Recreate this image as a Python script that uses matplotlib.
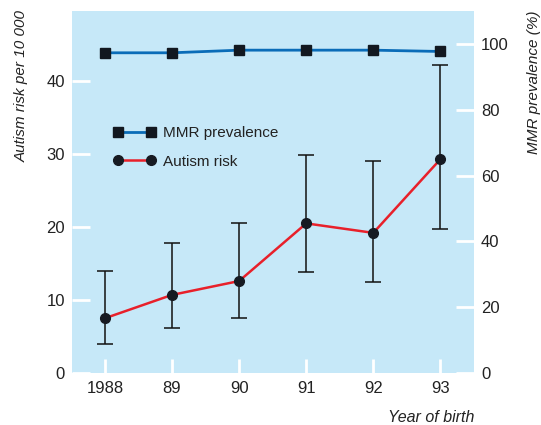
import matplotlib.pyplot as plt
import numpy as np

# Data
years = [1988, 1989, 1990, 1991, 1992, 1993]
year_labels = ['1988', '89', '90', '91', '92', '93']
mmr_prevalence = [97.3, 97.3, 98.1, 98.1, 98.1, 97.7]
autism_risk = [7.5, 10.7, 12.6, 20.5, 19.2, 29.3]
autism_upper = [14.0, 17.8, 20.5, 29.9, 29.0, 42.2]
autism_lower = [4.0, 6.2, 7.5, 13.8, 12.5, 19.7]

plt.rcParams['font.family'] = ['Liberation Sans Narrow', 'Liberation Sans', 'DejaVu Sans']
plt.rcParams['font.size'] = 11.5

bg = '#c6e8f8'
txt = '#222222'

fig = plt.figure(figsize=(5.41, 4.25), dpi=100)
ax = fig.add_axes([72 / 541, 1 - 373 / 425, 402 / 541, 362 / 425])
ax.set_facecolor(bg)
ax2 = ax.twinx()

yerr = [np.array(autism_risk) - np.array(autism_lower),
        np.array(autism_upper) - np.array(autism_risk)]
ax.errorbar(years, autism_risk, yerr=yerr, fmt='none', ecolor='#111111',
            elinewidth=1.1, capsize=6, capthick=1.1, zorder=2)
l_aut, = ax.plot(years, autism_risk, color='#e8202a', linewidth=1.8,
                 marker='o', markersize=7, markerfacecolor='#161a22',
                 markeredgecolor='#161a22', zorder=3, label='Autism risk')
l_mmr, = ax2.plot(years, mmr_prevalence, color='#0a6cb8', linewidth=2,
                  marker='s', markersize=6.5, markerfacecolor='#121820',
                  markeredgecolor='#121820', zorder=3, label='MMR prevalence')

ax.set_xlim(1987.51, 1993.5)
ax.set_ylim(0, 49.6)
ax2.set_ylim(0, 110)

ax.set_xticks(years)
ax.set_xticklabels(year_labels)
ax.set_yticks([0, 10, 20, 30, 40])
ax2.set_yticks([0, 20, 40, 60, 80, 100])

for a in (ax, ax2):
    for s in a.spines.values():
        s.set_visible(False)
ax.tick_params(axis='x', direction='in', length=10, width=2, color='white',
               labelcolor=txt, labelsize=12, pad=6)
ax.tick_params(axis='y', direction='in', length=13, width=2, color='white',
               labelcolor=txt, labelsize=12, pad=5)
ax2.tick_params(axis='y', direction='in', length=13, width=2, color='white',
                labelcolor=txt, labelsize=12, pad=5)

fig.text(22 / 541, 1 - 10 / 425, 'Autism risk per 10 000', rotation=90,
         style='italic', ha='center', va='top', color=txt, fontsize=11)
fig.text(534 / 541, 1 - 10 / 425, 'MMR prevalence (%)', rotation=90,
         style='italic', ha='center', va='top', color=txt, fontsize=11)
fig.text(474 / 541, 1 - 417 / 425, 'Year of birth', style='italic',
         ha='right', va='center', color=txt, fontsize=11.5)

leg = ax.legend([l_mmr, l_aut], ['MMR prevalence', 'Autism risk'],
                loc='upper left', bbox_to_anchor=(0.07, 0.72), frameon=False,
                fontsize=11, handlelength=2.7, numpoints=2, labelspacing=0.95,
                handletextpad=0.5)
for t in leg.get_texts():
    t.set_color(txt)

fig.savefig('out.png', dpi=100, facecolor='white')
